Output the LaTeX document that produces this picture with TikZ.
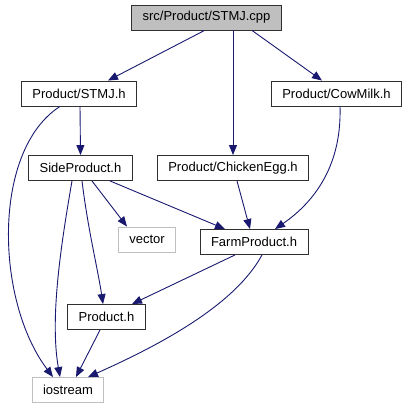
\documentclass[tikz,border=0pt]{standalone}
\usepackage{fontspec}
\setmainfont{Liberation Sans}
\usepackage{tikz}
\usetikzlibrary{arrows.meta,calc}
\definecolor{edgeblue}{HTML}{191970}
\definecolor{boxgray}{HTML}{BFBFBF}
\definecolor{framedark}{HTML}{303030}
\tikzset{
  hdr/.style={draw=framedark, line width=.9pt, fill=white, inner xsep=11pt, inner ysep=0pt, minimum height=25pt, font=\fontsize{13}{15}\selectfont},
  hdrtop/.style={hdr, fill=boxgray},
  hdrsys/.style={hdr, draw=boxgray},
  ar/.style={-{Triangle[length=10pt,width=8pt,fill=edgeblue]}, line width=.9pt, draw=edgeblue},
}
\begin{document}
\begin{tikzpicture}[x=1pt,y=1pt]
    \useasboundingbox (0,0) rectangle (415,-411);
    % files
    \node[hdrtop] (stmjcpp) at (206.5,-17.5) {src/Product/STMJ.cpp};
    \node[hdr] (stmjh) at (79,-93.5) {Product/STMJ.h};
    \node[hdr] (cowmilk) at (336.5,-93.5) {Product/CowMilk.h};
    \node[hdr] (sideprod) at (80.5,-168) {SideProduct.h};
    \node[hdr] (chickenegg) at (233,-168) {Product/ChickenEgg.h};
    \node[hdrsys] (vector) at (147,-239.5) {vector};
    \node[hdr] (farmprod) at (254,-242) {FarmProduct.h};
    \node[hdr] (prod) at (106.5,-317) {Product.h};
    \node[hdrsys] (iostream) at (68,-390) {iostream};

    % includes
    \draw[ar] ([xshift=-2pt]stmjcpp.south) -- ([xshift=29pt]stmjh.north);
    \draw[ar] ([xshift=26.5pt]stmjcpp.south) -- (chickenegg.north);
    \draw[ar] ([xshift=45.5pt]stmjcpp.south) -- ([xshift=-14.5pt]cowmilk.north);
    \draw[ar] ([xshift=1pt]stmjh.south) -- (sideprod.north);
    \draw[ar] ([xshift=-19pt]stmjh.south) .. controls (-8,-150) and (-5,-300) .. ([xshift=-15pt]iostream.north);
    \draw[ar] ([xshift=-8.5pt]sideprod.south) .. controls (60,-250) and (50,-320) .. ([xshift=-8pt]iostream.north);
    \draw[ar] ([xshift=1.5pt]sideprod.south) .. controls (88,-230) and (98,-270) .. ([xshift=-3.5pt]prod.north);
    \draw[ar] ([xshift=11.5pt]sideprod.south) -- ([xshift=-20pt]vector.north);
    \draw[ar] ([xshift=29.5pt]sideprod.south) -- ([xshift=-29pt]farmprod.north);
    \draw[ar] ([xshift=4pt]chickenegg.south) -- ([xshift=-4pt]farmprod.north);
    \draw[ar] ([xshift=3.5pt]cowmilk.south) .. controls (342,-170) and (310,-205) .. ([xshift=21pt]farmprod.north);
    \draw[ar] ([xshift=-19pt]farmprod.south) -- ([xshift=25.5pt]prod.north);
    \draw[ar] ([xshift=8pt]farmprod.south) .. controls (235,-305) and (160,-345) .. ([xshift=20pt]iostream.north);
    \draw[ar] ([xshift=-6.5pt]prod.south) -- ([xshift=8pt]iostream.north);
\end{tikzpicture}
\end{document}
